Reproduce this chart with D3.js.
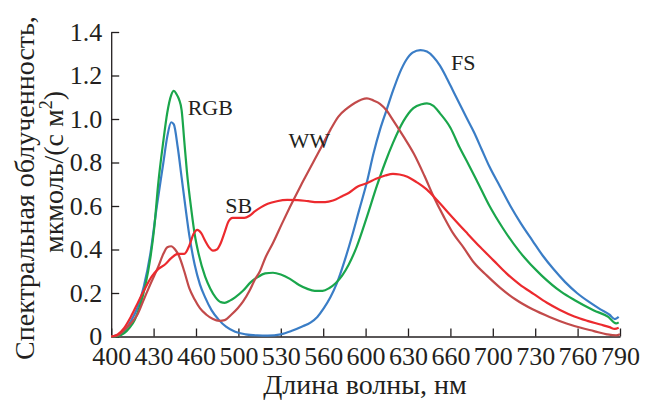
<!DOCTYPE html>
<html>
<head>
<meta charset="utf-8">
<script src="https://cdn.jsdelivr.net/npm/d3@7"></script>
<style>
  body { margin: 0; background: #fff; }
  svg { display: block; }
  svg text { font-family: "Liberation Serif", "DejaVu Serif", serif; }
</style>
</head>
<body>
<svg class="chart"></svg>
<script>
// wavelength, nm -> spectral irradiance
let fsData = [[400,0],[405,0.005],[410,0.025],[415,0.07],[420,0.13],[425,0.23],[430,0.38],[435,0.6],[440,0.8],[443,0.92],[446,0.985],[448,0.975],[451,0.87],[454,0.73],[457,0.59],[460,0.46],[464,0.33],[468,0.24],[472,0.18],[477,0.12],[482,0.08],[488,0.045],[495,0.022],[503,0.01],[512,0.005],[520,0.004],[530,0.01],[538,0.025],[546,0.045],[553,0.065],[558,0.09],[563,0.13],[568,0.18],[573,0.245],[579,0.35],[585,0.47],[590,0.58],[596,0.71],[601,0.84],[606,0.95],[611,1.04],[616,1.13],[621,1.21],[626,1.27],[631,1.305],[637,1.317],[642,1.31],[647,1.285],[652,1.245],[657,1.19],[662,1.13],[667,1.07],[672,1.01],[678,0.94],[684,0.86],[690,0.78],[698,0.69],[706,0.6],[714,0.52],[723,0.44],[731,0.37],[739,0.31],[748,0.25],[757,0.2],[766,0.16],[775,0.125],[782,0.1],[786,0.08],[789,0.09]];

let rgbData = [[400,0],[405,0.002],[410,0.015],[414,0.04],[418,0.076],[422,0.14],[426,0.23],[430,0.36],[433,0.5],[436,0.7],[440,0.9],[443,1.03],[446,1.11],[448,1.13],[450,1.115],[452,1.09],[454,1.04],[456,0.9],[458,0.76],[461.7,0.57],[464,0.47],[467,0.38],[472,0.275],[476,0.22],[480,0.18],[484,0.158],[487,0.155],[491,0.165],[495,0.18],[501,0.21],[507,0.25],[512,0.272],[518,0.29],[524,0.293],[530,0.285],[537,0.265],[544,0.237],[550,0.22],[556,0.21],[562,0.21],[567,0.222],[572,0.245],[577,0.28],[582,0.33],[588,0.41],[596,0.55],[603.5,0.69],[610,0.8],[616,0.89],[624,0.99],[631.6,1.05],[638,1.068],[642,1.072],[647,1.06],[652,1.026],[660,0.96],[667,0.87],[674,0.79],[680,0.72],[690,0.6],[700,0.5],[713,0.39],[730,0.28],[745,0.205],[755,0.168],[770,0.12],[781,0.09],[787,0.06],[789,0.065]];

let wwData = [[400,0],[405,0.005],[410,0.03],[415,0.06],[420,0.1],[425,0.17],[430,0.24],[436,0.32],[440,0.38],[443,0.41],[446,0.415],[449,0.4],[452,0.37],[456,0.3],[460,0.22],[464,0.17],[468,0.13],[473,0.1],[478,0.08],[483,0.072],[487,0.075],[492,0.1],[497,0.13],[501,0.16],[506,0.21],[510,0.26],[514,0.3],[518,0.36],[524,0.43],[531,0.52],[537,0.595],[545,0.69],[553,0.78],[561,0.87],[568,0.95],[574,1.01],[581,1.05],[587,1.075],[592,1.09],[596,1.095],[601,1.085],[606,1.07],[611,1.04],[616,0.995],[624,0.92],[632,0.84],[640,0.74],[647,0.645],[655,0.55],[662,0.475],[670,0.41],[678,0.34],[688,0.28],[698,0.225],[710,0.17],[723,0.125],[736,0.09],[749,0.06],[760,0.04],[770,0.025],[780,0.01],[787,0.005],[790,0.01]];

let sbData = [[400,0],[405,0.01],[410,0.04],[415,0.09],[420,0.15],[425,0.21],[431,0.275],[436,0.31],[441,0.33],[446,0.36],[451,0.38],[456,0.38],[460,0.42],[463,0.47],[466,0.49],[469,0.475],[472,0.44],[475,0.41],[478,0.395],[481,0.4],[484,0.43],[487,0.48],[490,0.53],[493,0.545],[497,0.545],[502,0.545],[506,0.555],[510,0.575],[515,0.595],[520,0.61],[527,0.622],[535,0.628],[543,0.627],[551,0.622],[558,0.618],[564,0.618],[570,0.625],[577,0.645],[582,0.66],[589,0.69],[596,0.705],[603,0.725],[610,0.74],[616,0.748],[621,0.745],[627,0.735],[634,0.71],[642,0.675],[650,0.625],[656,0.585],[662,0.545],[672,0.48],[683,0.41],[693,0.35],[703,0.29],[713,0.24],[724,0.195],[734,0.155],[744,0.122],[755,0.092],[765,0.072],[775,0.055],[782,0.043],[786,0.035],[789,0.04]];

let series = [
  {name: "FS", data: fsData, color: "#3a7dc6", label: [660.5, 1.225]},
  {name: "RGB", data: rgbData, color: "#1aa64b", label: [458.6, 1.018]},
  {name: "WW", data: wwData, color: "#c24a4a", label: [535.9, 0.865]},
  {name: "SB", data: sbData, color: "#ec2a2e", label: [487.4, 0.566]}
];

let xTickLabels = ["400","430","460","500","530","560","600","630","660","700","730","760","790"];
let yTicks = [0, 0.2, 0.4, 0.6, 0.8, 1.0, 1.2, 1.4];

let serif = "Liberation Serif";
let width = 647;
let height = 400;
let svg = d3.select(".chart").attr("width", width).attr("height", height);

let x = d3.scaleLinear().domain([400, 790]).range([111.2, 620]);
let y = d3.scaleLinear().domain([0, 1.4]).range([336.5, 32]);
let xStep = (790 - 400) / (xTickLabels.length - 1);

// axes
let xAxis = d3.axisBottom(x)
  .tickValues(xTickLabels.map((d, i) => 400 + i * xStep))
  .tickFormat((d, i) => xTickLabels[i])
  .tickSize(-8).tickSizeOuter(0).tickPadding(10);
let gx = svg.append("g").attr("transform", "translate(0," + y(0) + ")").call(xAxis);

let yAxis = d3.axisLeft(y)
  .tickValues(yTicks)
  .tickFormat(d => d === 0 ? "0" : d3.format(".1f")(d))
  .tickSize(-8).tickSizeOuter(0).tickPadding(9);
let gy = svg.append("g").attr("transform", "translate(" + x(400) + ",0)").call(yAxis);

[gx, gy].forEach(g => {
  g.attr("font-family", serif).attr("font-size", 26);
  g.select(".domain").attr("stroke", "#231f20").attr("stroke-width", 1.3);
  g.selectAll(".tick line").attr("stroke", "#231f20").attr("stroke-width", 1.3);
  g.selectAll(".tick text").attr("fill", "#231f20");
});
gx.selectAll(".tick text").attr("dy", "0.71em");

// curves
let line = d3.line()
  .x(d => x(d[0]))
  .y(d => y(d[1]))
  .curve(d3.curveMonotoneX);

svg.selectAll("path.curve")
  .data(series)
  .enter()
  .append("path")
  .attr("class", "curve")
  .attr("d", d => line(d.data))
  .attr("fill", "none")
  .attr("stroke", d => d.color)
  .attr("stroke-width", 2.2)
  .attr("stroke-linejoin", "round");

svg.selectAll("text.lbl")
  .data(series)
  .enter()
  .append("text")
  .attr("class", "lbl")
  .attr("x", d => x(d.label[0]))
  .attr("y", d => y(d.label[1]))
  .attr("fill", "#231f20")
  .attr("font-family", serif)
  .attr("font-size", 22)
  .text(d => d.name);

// axis titles
svg.append("text")
  .attr("x", 365).attr("y", 394)
  .attr("text-anchor", "middle")
  .attr("fill", "#231f20")
  .attr("font-family", serif)
  .attr("font-size", 28)
  .text("Длина волны, нм");

svg.append("text")
  .attr("transform", "translate(34,188) rotate(-90)")
  .attr("text-anchor", "middle")
  .attr("fill", "#231f20")
  .attr("font-family", serif)
  .attr("font-size", 28)
  .text("Спектральная облученность,");

let t2 = svg.append("text")
  .attr("transform", "translate(63,172) rotate(-90)")
  .attr("text-anchor", "middle")
  .attr("fill", "#231f20")
  .attr("font-family", serif)
  .attr("font-size", 28);
t2.append("tspan").text("мкмоль/(с м");
t2.append("tspan").attr("dy", -11).attr("font-size", 18).text("2");
t2.append("tspan").attr("dy", 11).text(")");
</script>
</body>
</html>
